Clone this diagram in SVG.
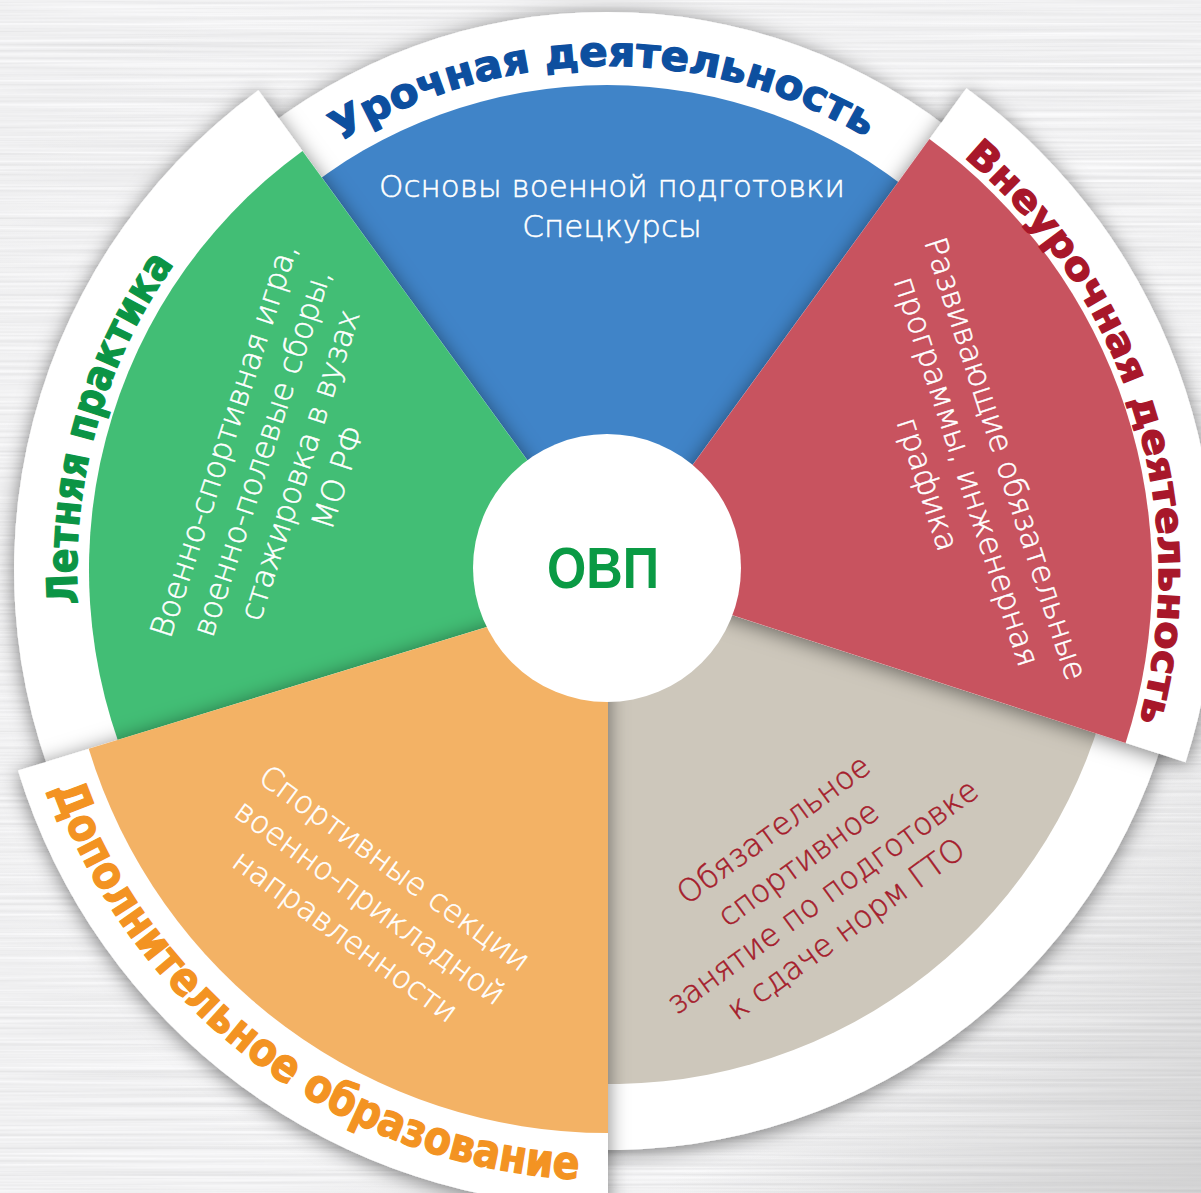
<svg xmlns="http://www.w3.org/2000/svg" width="1201" height="1193" viewBox="0 0 1201 1193">
<defs>
<style>
.body{font-family:"DejaVu Sans","Liberation Sans",sans-serif;font-weight:200;font-size:31px;text-anchor:middle;stroke-width:0.5}
.w{fill:#ffffff;stroke:#ffffff}
.dr{fill:#a51c2c;stroke:#a51c2c}
.lab{font-family:"DejaVu Sans","Liberation Sans",sans-serif;font-weight:bold;text-anchor:middle;stroke-width:1.3;stroke-linejoin:round}
.band{fill:#ffffff}
</style>
<filter id="brush" filterUnits="userSpaceOnUse" x="0" y="0" width="1201" height="1193">
<feTurbulence type="fractalNoise" baseFrequency="0.0025 0.3" numOctaves="3" seed="7" result="n"/>
<feColorMatrix in="n" type="matrix" values="0.3 0 0 0 0.72  0.3 0 0 0 0.72  0.3 0 0 0 0.73  0 0 0 0 1"/>
</filter>
<filter id="sh" x="-15%" y="-15%" width="130%" height="130%">
<feDropShadow dx="0" dy="3" stdDeviation="10" flood-color="#000000" flood-opacity="0.5"/>
</filter>
<radialGradient id="glow" cx="600" cy="560" r="760" gradientUnits="userSpaceOnUse">
<stop offset="0" stop-color="#ffffff" stop-opacity="0.35"/>
<stop offset="1" stop-color="#ffffff" stop-opacity="0"/>
</radialGradient>
<linearGradient id="photo" x1="0" y1="0" x2="1" y2="1">
<stop offset="0.55" stop-color="#9a9a9a" stop-opacity="0"/>
<stop offset="1" stop-color="#9a9a9a" stop-opacity="0.35"/>
</linearGradient>
<path id="pBlue" d="M278.4,187.2 A506,506 0 0 1 928.9,181.6"/>
<path id="pRed" d="M907.5,115.7 A547,547 0 0 1 1116.6,787.1"/>
<path id="pGreen" d="M93.2,700 A530,530 0 0 1 237.5,190"/>
<path id="pOrange" d="M34,726.7 A590,590 0 0 0 643,1178.9"/>
</defs>

<g id="background">
<rect width="1201" height="1193" fill="#dcdcdc"/>
<rect width="1201" height="1193" filter="url(#brush)"/>
<rect width="1201" height="1193" fill="url(#glow)"/>
<rect x="600" y="600" width="601" height="593" fill="url(#photo)"/>
</g>

<g id="connectors"/>

<g id="node-urochnaya">
<g filter="url(#sh)">
<path class="band" d="M607,572 L247,143 A560,560 0 0 1 967,143 Z"/>
<path fill="#4184c8" d="M607,572 L294,199 A487,487 0 0 1 920,199 Z"/>
</g>
<text class="lab" font-size="41" fill="#0d4f9f" stroke="#0d4f9f"><textPath href="#pBlue" startOffset="50%" textLength="553" lengthAdjust="spacingAndGlyphs">Урочная деятельность</textPath></text>
<text class="body w" x="612" y="197">Основы военной подготовки</text>
<text class="body w" x="612" y="237">Спецкурсы</text>
</g>

<g id="node-gto">
<g filter="url(#sh)">
<path class="band" d="M610,572 L1170.8,711.8 A578,578 0 0 1 569.7,1148.6 Z"/>
<path fill="#cdc7bb" d="M610,572 L1106.8,695.9 A512,512 0 0 1 574.3,1082.8 Z"/>
</g>
<g transform="rotate(-36 610 572)">
<text class="body dr" x="591" y="887">Обязательное</text>
<text class="body dr" x="591" y="929">спортивное</text>
<text class="body dr" x="591" y="970">занятие по подготовке</text>
<text class="body dr" x="591" y="1010">к сдаче норм ГТО</text>
</g>
</g>

<g id="node-letnyaya">
<g filter="url(#sh)">
<path class="band" d="M607,570 L93.5,866.5 A593,593 0 0 1 258.4,90.3 Z"/>
<path fill="#43be74" d="M607,570 L158.4,829 A518,518 0 0 1 302.5,150.9 Z"/>
</g>
<text class="lab" font-size="42" fill="#0b9445" stroke="#0b9445"><textPath href="#pGreen" startOffset="50%" textLength="360" lengthAdjust="spacingAndGlyphs">Летняя практика</textPath></text>
<g transform="rotate(-72 607 570)">
<text class="body w" x="612" y="176">Военно-спортивная игра,</text>
<text class="body w" x="612" y="216">военно-полевые сборы,</text>
<text class="body w" x="612" y="256">стажировка в вузах</text>
<text class="body w" x="612" y="296">МО РФ</text>
</g>
</g>

<g id="node-vneurochnaya">
<g filter="url(#sh)">
<path class="band" d="M612,576 L966.4,88.2 A603,603 0 0 1 1185.5,762.3 Z"/>
<path fill="#c8535f" d="M612,576 L929.4,139.1 A540,540 0 0 1 1125.6,742.9 Z"/>
</g>
<text class="lab" font-size="38" fill="#a8172a" stroke="#a8172a"><textPath href="#pRed" startOffset="50%" textLength="624" lengthAdjust="spacingAndGlyphs">Внеурочная деятельность</textPath></text>
<g transform="rotate(72 612 576)">
<text class="body w" x="622" y="176">Развивающие обязательные</text>
<text class="body w" x="622" y="217">программы, инженерная</text>
<text class="body w" x="622" y="258">графика</text>
</g>
</g>

<g id="node-dopolnitelnoe">
<g filter="url(#sh)">
<path class="band" d="M608,590 L608,1207 A617,617 0 0 1 18,770.4 Z"/>
<path fill="#f3b265" d="M608,590 L608,1133 A543,543 0 0 1 88.7,748.8 Z"/>
</g>
<text class="lab" font-size="46" fill="#f39322" stroke="#f39322"><textPath href="#pOrange" startOffset="50%" textLength="695" lengthAdjust="spacingAndGlyphs">Дополнительное образование</textPath></text>
<g transform="rotate(36 608 590)">
<text class="body w" x="599" y="951">Спортивные секции</text>
<text class="body w" x="599" y="993">военно-прикладной</text>
<text class="body w" x="599" y="1035">направленности</text>
</g>
</g>

<g id="node-ovp">
<circle cx="607" cy="568" r="134" fill="#ffffff"/>
<text x="603" y="588" font-family="Liberation Sans, Arial, sans-serif" font-weight="bold" font-size="57" fill="#0a9a44" text-anchor="middle" textLength="112" lengthAdjust="spacingAndGlyphs">ОВП</text>
</g>
</svg>
